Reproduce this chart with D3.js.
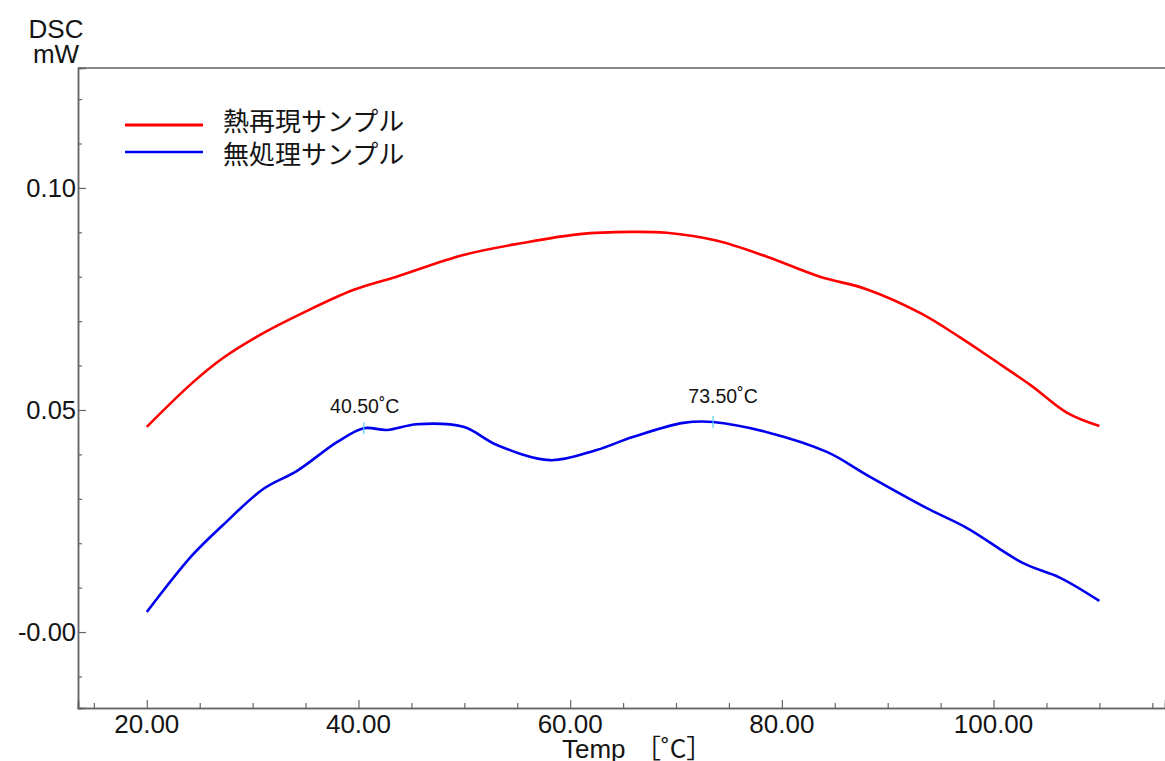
<!DOCTYPE html>
<html>
<head>
<meta charset="utf-8">
<script src="https://cdn.jsdelivr.net/npm/d3@7"></script>
<style>
  html, body { margin: 0; padding: 0; background: #fff; }
  svg { display: block; }
  text { font-family: "Liberation Sans", Arial, sans-serif; fill: #141414; }
  .jp { font-family: "Noto Sans CJK JP", sans-serif; }
</style>
</head>
<body>
<svg id="chart" width="1165" height="761"></svg>
<script>
// ---- data ----
const seriesNames = ["熱再現サンプル", "無処理サンプル"];
const seriesColors = ["#ff0000", "#0000ee"];

const reheatTemp  = [20, 24.3, 27.2, 30.7, 34.7, 39.5, 43.6, 49.9, 55.5, 60.9, 65.7, 69.1, 73.9, 78.6, 83.6, 88.0, 93.1, 96.8, 100.0, 103.5, 107.0, 110.0];
const reheatValue = [0.0462, 0.0561, 0.0617, 0.0669, 0.0718, 0.0770, 0.0800, 0.0849, 0.0876, 0.0896, 0.0901, 0.0899, 0.0881, 0.0845, 0.0800, 0.0772, 0.0718, 0.0664, 0.0613, 0.0556, 0.0493, 0.0464];

const rawTemp  = [20, 24.3, 27.2, 31.0, 34.2, 38.0, 40.5, 42.7, 45.5, 49.9, 53.1, 58.1, 62.5, 65.9, 70.7, 73.5, 78.6, 84.3, 88.0, 93.7, 97.5, 102.8, 106.3, 110.0];
const rawValue = [0.0045, 0.0173, 0.0241, 0.0322, 0.0363, 0.0428, 0.0459, 0.0455, 0.0468, 0.0462, 0.0421, 0.0387, 0.0410, 0.0439, 0.0471, 0.0473, 0.0450, 0.0405, 0.0354, 0.0279, 0.0234, 0.0155, 0.0122, 0.0070];

const peakTemps  = [40.5, 73.5];
const peakLabels = ["40.50˚C", "73.50˚C"];

const xMajorTicks = [20, 40, 60, 80, 100];
const yMajorTicks = [0.10, 0.05, 0.00];
const yTickLabels = ["0.10", "0.05", "-0.00"];

const xDomain = [13.5, 116.2];
const yDomain = [-0.0171, 0.1270];

// ---- layout ----
const svg = d3.select("#chart");
const mLeft = 78, mRight = 1165, mTop = 68, mBottom = 708;
const peakLabelOffsets = [[1, -15], [10, -19]];

const x = d3.scaleLinear().domain(xDomain).range([mLeft, mRight]);
const y = d3.scaleLinear().domain(yDomain).range([mBottom, mTop]);

const axisColor = "#666";

// top border
svg.append("line").attr("x1", mLeft).attr("x2", mRight).attr("y1", mTop).attr("y2", mTop)
  .attr("stroke", "#8a8a8a").attr("stroke-width", 2);

// x axis
const xMinor = d3.range(15, 116, 5).filter(v => !xMajorTicks.includes(v));
const gx = svg.append("g").attr("transform", `translate(0,${mBottom})`);
gx.call(d3.axisTop(x).tickValues(xMinor).tickSize(5).tickFormat(""));
gx.append("g").call(d3.axisTop(x).tickValues(xMajorTicks).tickSize(8).tickFormat(""));
gx.selectAll("path.domain").attr("stroke", axisColor).attr("stroke-width", 1.5);
gx.selectAll(".tick line").attr("stroke", axisColor).attr("stroke-width", 1.2);
gx.selectAll("text.xl").data(xMajorTicks).enter().append("text")
  .attr("class", "xl")
  .attr("x", d => x(d)).attr("y", 25)
  .attr("text-anchor", "middle").attr("font-size", 26)
  .text(d => d3.format(".2f")(d));

// y axis
const yMinor = d3.range(-1, 13).map(v => v / 100).filter(v => !yMajorTicks.some(m => Math.abs(m - v) < 1e-9));
const gy = svg.append("g").attr("transform", `translate(${mLeft},0)`);
gy.call(d3.axisRight(y).tickValues(yMinor).tickSize(4).tickFormat(""));
gy.append("g").call(d3.axisRight(y).tickValues(yMajorTicks).tickSize(8).tickFormat(""));
gy.selectAll("path.domain").attr("stroke", axisColor).attr("stroke-width", 1.5);
gy.selectAll(".tick line").attr("stroke", axisColor).attr("stroke-width", 1.2);
gy.selectAll("text.yl").data(yMajorTicks).enter().append("text")
  .attr("class", "yl")
  .attr("x", -2).attr("y", d => y(d) + 9)
  .attr("text-anchor", "end").attr("font-size", 25.5)
  .text((d, i) => yTickLabels[i]);

// axis titles
const yTitle = svg.append("text").attr("text-anchor", "middle").attr("font-size", 26);
yTitle.append("tspan").attr("x", 56).attr("y", 38).text("DSC");
yTitle.append("tspan").attr("x", 56).attr("y", 63).text("mW");
const xTitle = svg.append("text").attr("x", 562).attr("y", 758).attr("font-size", 26);
xTitle.append("tspan").text("Temp");
xTitle.append("tspan").attr("class", "jp").attr("x", 635).text("［˚C］");

// lines
const line = d3.line().x(d => x(d[0])).y(d => y(d[1])).curve(d3.curveCatmullRom.alpha(0.5));
const reheatData = reheatTemp.map((t, i) => [t, reheatValue[i]]);
const rawData = rawTemp.map((t, i) => [t, rawValue[i]]);

svg.append("path").datum(reheatData).attr("d", line)
  .attr("fill", "none").attr("stroke", seriesColors[0]).attr("stroke-width", 2.6);
svg.append("path").datum(rawData).attr("d", line)
  .attr("fill", "none").attr("stroke", seriesColors[1]).attr("stroke-width", 2.6);

// peak markers and labels
const rawInterp = t => {
  const i = d3.bisectLeft(rawTemp, t);
  if (rawTemp[i] === t) return rawValue[i];
  const t0 = rawTemp[i - 1], t1 = rawTemp[i];
  return rawValue[i - 1] + (rawValue[i] - rawValue[i - 1]) * (t - t0) / (t1 - t0);
};
peakTemps.forEach((t, i) => {
  const px = x(t), py = y(rawInterp(t));
  svg.append("line").attr("x1", px).attr("x2", px).attr("y1", py - 6).attr("y2", py + 6)
    .attr("stroke", "#55d0f0").attr("stroke-width", 1.2);
  svg.append("text").attr("x", px + peakLabelOffsets[i][0]).attr("y", py + peakLabelOffsets[i][1])
    .attr("text-anchor", "middle").attr("font-size", 19.5).text(peakLabels[i]);
});

// legend
const legendLineY = [125, 152];
const legendTextY = [131, 164];
seriesNames.forEach((name, i) => {
  svg.append("line").attr("x1", 125).attr("x2", 203).attr("y1", legendLineY[i]).attr("y2", legendLineY[i])
    .attr("stroke", seriesColors[i]).attr("stroke-width", i === 0 ? 3.2 : 2.4);
  svg.append("text").attr("class", "jp").attr("x", 223).attr("y", legendTextY[i])
    .attr("font-size", 26).text(name);
});
</script>
</body>
</html>
